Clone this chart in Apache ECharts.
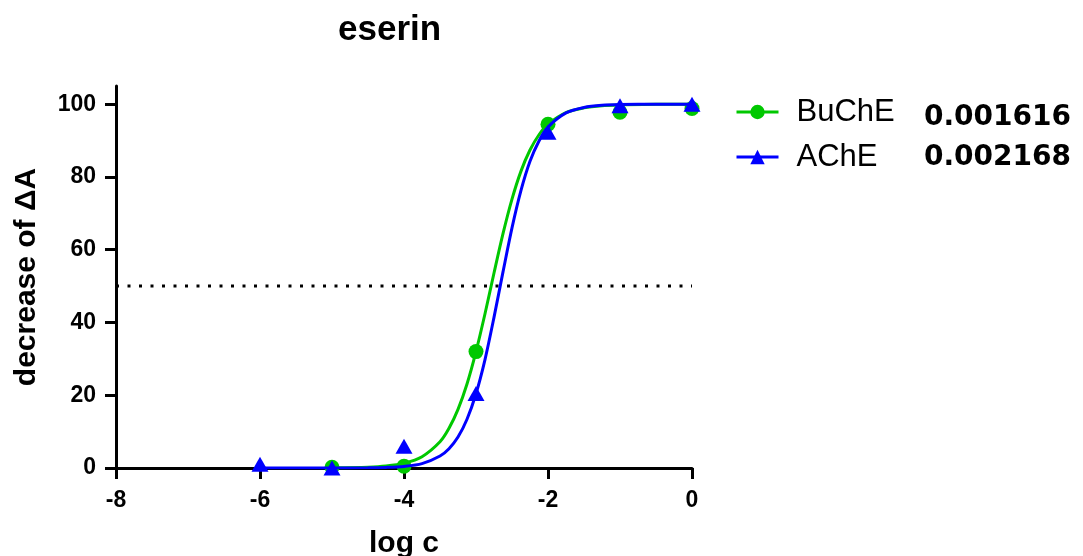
<!DOCTYPE html>
<html>
<head>
<meta charset="utf-8">
<title>eserin</title>
<script src="https://cdn.jsdelivr.net/npm/echarts@6/dist/echarts.min.js"></script>
<style>
  html, body { margin: 0; padding: 0; background: #ffffff; }
  #chart { width: 1083px; height: 556px; }
</style>
</head>
<body>
<div id="chart"></div>
<script>
// Measured points: log concentration vs. decrease of ΔA (%)
const logC_BuChE = [-5, -4, -3, -2, -1, 0];
const val_BuChE  = [0.2, 0.5, 32, 94.5, 97.8, 98.8];
const logC_AChE  = [-6, -5, -4, -3, -2, -1, 0];
const val_AChE   = [1.0, 0, 6, 20.5, 92.3, 99.6, 100];

// Fitted dose-response curves (sampled along log c)
const fitX_BuChE = [-5, -4.5, -4.25, -4, -3.75, -3.5, -3.375, -3.25, -3.125, -3, -2.875, -2.75, -2.625, -2.5, -2.375, -2.25, -2.125, -2, -1.75, -1.5, -1.25, -1, -0.5, 0];
const fitY_BuChE = [0.04, 0.21, 0.52, 1.3, 3.1, 7.2, 10.9, 16.1, 23.1, 32.0, 42.4, 53.6, 64.4, 73.9, 81.6, 87.4, 91.6, 94.5, 97.7, 99.0, 99.6, 99.8, 100, 100];
const fitX_AChE  = [-6, -5.5, -5, -4.5, -4.25, -4, -3.75, -3.5, -3.375, -3.25, -3.125, -3, -2.875, -2.75, -2.625, -2.5, -2.375, -2.25, -2.125, -2, -1.75, -1.5, -1.25, -1, -0.5, 0];
const fitY_AChE  = [0, 0, 0.01, 0.06, 0.16, 0.44, 1.2, 3.3, 5.3, 8.5, 13.4, 20.4, 29.8, 41.4, 53.9, 66.0, 76.3, 84.3, 89.9, 93.7, 97.6, 99.1, 99.7, 99.9, 100, 100];

// 50 % reference line
const halfX = [-8, 0];
const halfY = [50, 50];

// IC50 values shown beside the legend
const seriesNames = ['BuChE', 'AChE'];
const ic50Labels = ['0.001616', '0.002168'];

const xTicks = [-8, -6, -4, -2, 0];
const yTicks = [0, 20, 40, 60, 80, 100];

const GREEN = '#00c800';
const BLUE = '#0000ff';
const BOLD = '"Liberation Sans", Arial, sans-serif';

const zip = (xs, ys) => xs.map((x, i) => [x, ys[i]]);

const chart = echarts.init(document.getElementById('chart'), null, { renderer: 'canvas' });

chart.setOption({
  animation: false,
  backgroundColor: '#ffffff',
  title: {
    text: 'eserin',
    left: 338,
    top: 13,
    padding: 0,
    textStyle: { fontFamily: BOLD, fontWeight: 'bold', fontSize: 35, color: '#000' }
  },
  grid: { left: 116, right: 391, top: 86, bottom: 88, containLabel: false, outerBoundsMode: 'none' },
  xAxis: {
    type: 'value',
    min: -8, max: 0, interval: 2,
    name: 'log c',
    nameLocation: 'middle',
    nameGap: 61,
    nameTextStyle: { fontFamily: BOLD, fontWeight: 'bold', fontSize: 30, color: '#000' },
    axisLine: { onZero: false, lineStyle: { color: '#000', width: 3 } },
    axisTick: { inside: false, length: 11, lineStyle: { color: '#000', width: 3 }, customValues: xTicks },
    axisLabel: { margin: 21, fontFamily: BOLD, fontWeight: 'bold', fontSize: 23, color: '#000', customValues: xTicks },
    splitLine: { show: false }
  },
  yAxis: {
    type: 'value',
    min: 0, max: 105, interval: 20,
    name: 'decrease of ΔA',
    nameLocation: 'middle',
    nameRotate: 90,
    nameGap: 74,
    nameTextStyle: { fontFamily: BOLD, fontWeight: 'bold', fontSize: 30, color: '#000' },
    axisLine: { onZero: false, lineStyle: { color: '#000', width: 3 } },
    axisTick: { inside: false, length: 11, lineStyle: { color: '#000', width: 3 }, customValues: yTicks },
    axisLabel: { margin: 20, fontFamily: BOLD, fontWeight: 'bold', fontSize: 23, color: '#000', customValues: yTicks },
    splitLine: { show: false }
  },
  legend: {
    orient: 'vertical',
    left: 730,
    top: 91,
    itemWidth: 42,
    itemHeight: 18,
    itemGap: 13,
    selectedMode: false,
    data: seriesNames,
    lineStyle: { width: 3 },
    itemStyle: { opacity: 1 },
    textStyle: {
      fontFamily: '"Liberation Sans", Arial, sans-serif',
      fontSize: 31,
      lineHeight: 32,
      color: '#000',
      padding: [0, 0, 0, 13]
    }
  },
  graphic: ic50Labels.map((t, i) => ({
    type: 'text',
    left: 924,
    top: 104 + i * 40,
    silent: true,
    style: {
      text: t,
      fill: '#000',
      font: 'bold 28px "DejaVu Sans", sans-serif'
    }
  })),
  series: [
    {
      name: 'cutoff',
      type: 'line',
      data: zip(halfX, halfY),
      symbol: 'none',
      silent: true,
      lineStyle: { color: '#000', width: 3, type: [3, 8.5] },
      z: 1
    },
    {
      name: 'BuChE',
      type: 'line',
      data: zip(fitX_BuChE, fitY_BuChE),
      symbol: 'circle',
      showSymbol: false,
      smooth: 0.3,
      itemStyle: { color: GREEN },
      lineStyle: { color: GREEN, width: 3 },
      z: 2
    },
    {
      name: 'BuChE',
      type: 'scatter',
      data: zip(logC_BuChE, val_BuChE),
      symbol: 'circle',
      symbolSize: 15,
      itemStyle: { color: GREEN, opacity: 1 },
      z: 3
    },
    {
      name: 'AChE',
      type: 'line',
      data: zip(fitX_AChE, fitY_AChE),
      symbol: 'triangle',
      showSymbol: false,
      smooth: 0.3,
      itemStyle: { color: BLUE },
      lineStyle: { color: BLUE, width: 3 },
      z: 4
    },
    {
      name: 'AChE',
      type: 'scatter',
      data: zip(logC_AChE, val_AChE),
      symbol: 'triangle',
      symbolSize: [17, 15],
      itemStyle: { color: BLUE, opacity: 1 },
      z: 5
    }
  ]
});
</script>
</body>
</html>
